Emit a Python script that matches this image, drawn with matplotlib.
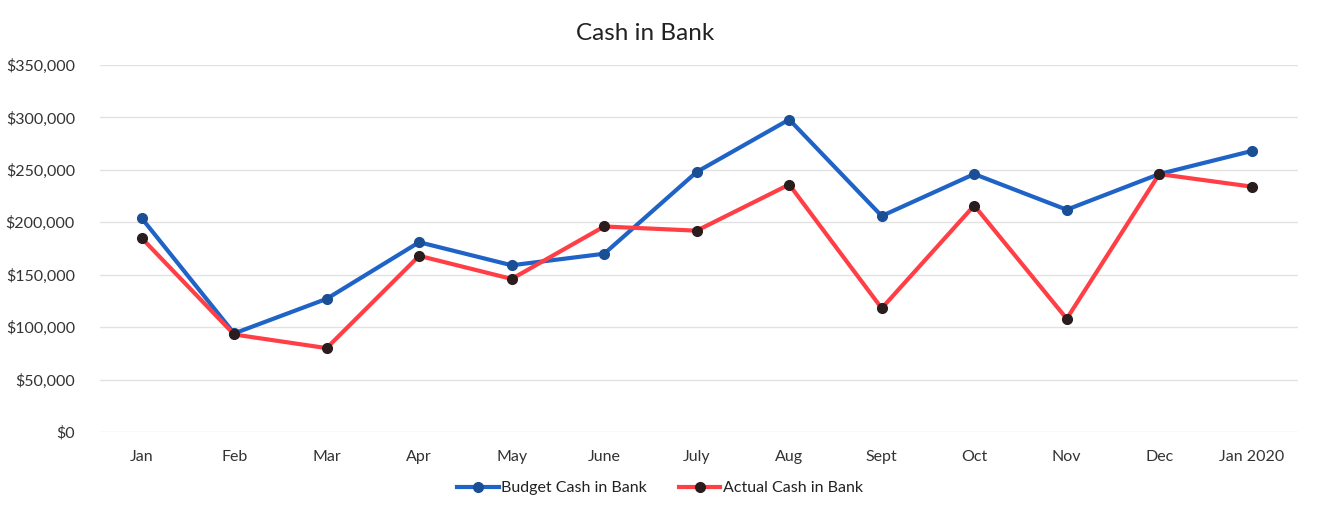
import matplotlib
import matplotlib.pyplot as plt
from matplotlib.ticker import FuncFormatter

font = {'family': ['Lato', 'DejaVu Sans'], 'size': 11.5}
matplotlib.rc('font', **font)

months = ['Jan', 'Feb', 'Mar', 'Apr', 'May', 'June', 'July', 'Aug',
          'Sept', 'Oct', 'Nov', 'Dec', 'Jan 2020']
budget = [204000, 94000, 127000, 181000, 159000, 170000, 248000, 298000,
          206000, 246000, 212000, 246000, 268000]
actual = [185000, 93000, 80000, 168000, 146000, 196000, 192000, 236000,
          118000, 216000, 108000, 246000, 234000]

labels = ['Budget Cash in Bank', 'Actual Cash in Bank']

fig = plt.figure(figsize=(13.2, 5.17), dpi=100)
ax = fig.add_axes([100 / 1320, 1 - 432 / 517, 1198 / 1320, 367 / 517])

x = range(len(months))
ax.plot(x, budget, '-o', color='#1f63c6', linewidth=3.0,
        markersize=7, markerfacecolor='#1a4f96', markeredgecolor='#1a4f96',
        label=labels[0], zorder=3)
ax.plot(x, actual, '-o', color='#ff3f45', linewidth=3.0,
        markersize=7, markerfacecolor='#2b1c1e', markeredgecolor='#2b1c1e',
        label=labels[1], zorder=4)

ax.set_xlim(-0.45, 12.5)
ax.set_ylim(0, 350000)
ax.set_yticks(range(0, 350001, 50000))
ax.yaxis.set_major_formatter(FuncFormatter(lambda v, p: '${:,.0f}'.format(v)))
ax.set_xticks(list(x))
ax.set_xticklabels(months)

ax.grid(axis='y', color='#e2e2e2', linewidth=1.0)
ax.set_axisbelow(True)
for s in ax.spines.values():
    s.set_visible(False)
ax.tick_params(axis='both', length=0, colors='#333333', labelsize=11.5)
ax.tick_params(axis='y', pad=18)
ax.tick_params(axis='x', pad=13)

fig.text(645 / 1320, 1 - 33 / 517, 'Cash in Bank', ha='center', va='center',
         fontsize=17.5, color='#222222')

fig.legend(loc='center', bbox_to_anchor=(660 / 1320, 1 - 488 / 517), ncol=2,
           frameon=False, fontsize=11.5, handlelength=2.6, handletextpad=0.15,
           columnspacing=2.0, labelcolor='#222222')

plt.savefig('out.png', dpi=100)
